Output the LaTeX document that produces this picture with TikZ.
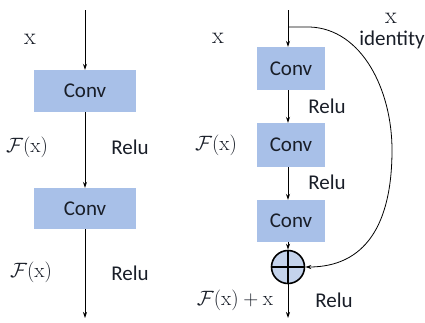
\documentclass[tikz,border=0pt]{standalone}
\usepackage{fontspec}
\newfontfamily\calib{Carlito}
\usetikzlibrary{arrows.meta}
\definecolor{boxblue}{RGB}{168,192,232}
\definecolor{sumblue}{RGB}{196,211,236}
\definecolor{txt}{RGB}{25,30,40}
\tikzset{
  convbox/.style={rectangle, fill=boxblue, inner sep=0pt, text=txt, font=\calib\fontsize{21}{25}\selectfont},
  lbl/.style={inner sep=0pt, text=txt, font=\calib\fontsize{21}{25}\selectfont},
  mlbl/.style={inner sep=0pt, text=txt, font=\fontsize{21}{25}\selectfont},
  xlbl/.style={inner sep=0pt, text=txt, font=\fontsize{24}{28}\selectfont},
  flow/.style={draw=black, line width=0.8pt, -{Stealth[length=6pt,width=4pt]}},
}
\begin{document}
\begin{tikzpicture}[x=1pt,y=-1pt]
\useasboundingbox (0,0) rectangle (425,322);
% left
\coordinate (ltop) at (85,10);
\coordinate (lbot) at (85,318);
\node[convbox, minimum width=102pt, minimum height=42pt] (lc1) at (85,91) {Conv};
\node[convbox, minimum width=102pt, minimum height=41pt] (lc2) at (85,208.5) {Conv};
\draw[flow] (ltop) -- (lc1.north);
\draw[flow] (lc1.south) -- (lc2.north);
\draw[flow] (lc2.south) -- (lbot);
\node[xlbl] (lx) at (30,39) {x};
\node[mlbl] (lf1) at (27,147) {$\mathcal{F}(\mathrm{x})$};
\node[lbl] (lr1) at (130,147) {Relu};
\node[mlbl] (lf2) at (31,272) {$\mathcal{F}(\mathrm{x})$};
\node[lbl] (lr2) at (130,273) {Relu};
% right
\coordinate (rtop) at (288,10);
\coordinate (split) at (288,27);
\coordinate (rbot) at (288,318);
\node[convbox, minimum width=68pt, minimum height=43pt] (rc1) at (291,68.5) {Conv};
\node[convbox, minimum width=68pt, minimum height=44pt] (rc2) at (291,145) {Conv};
\node[convbox, minimum width=68pt, minimum height=42pt] (rc3) at (291,221) {Conv};
\node[circle, draw=black, line width=1.6pt, fill=sumblue, minimum size=33pt, inner sep=0pt] (sum) at (288,267) {};
\draw[line width=1.6pt] (sum.north) -- (sum.south) (sum.west) -- (sum.east);
\draw[flow] (rtop) -- (rc1.north -| rtop);
\draw[flow] (rc1.south -| rtop) -- (rc2.north -| rtop);
\draw[flow] (rc2.south -| rtop) -- (rc3.north -| rtop);
\draw[flow] (rc3.south -| rtop) -- (sum.north);
\draw[flow] (sum.south) -- (rbot);
\draw[flow] (split) -- (310,27) .. controls (362,29) and (392,90) .. (392,150)
   .. controls (392,225) and (365,267) .. (sum.east);
\node[xlbl] (rx) at (218,38) {x};
\node[xlbl] (ix) at (391,18) {x};
\node[lbl] (id) at (392,40) {identity};
\node[lbl] (rr1) at (327,106) {Relu};
\node[lbl] (rr2) at (327,182) {Relu};
\node[mlbl] (rf) at (216,145) {$\mathcal{F}(\mathrm{x})$};
\node[mlbl] (rfx) at (235,300) {$\mathcal{F}(\mathrm{x})+\mathrm{x}$};
\node[lbl] (rr3) at (334,300) {Relu};
\end{tikzpicture}
\end{document}
